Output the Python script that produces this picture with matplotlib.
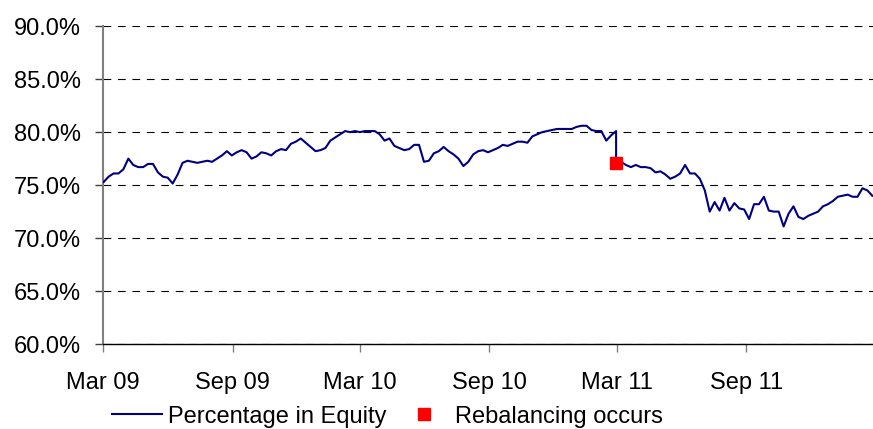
import matplotlib
matplotlib.use("Agg")
import matplotlib.pyplot as plt
from matplotlib.ticker import FuncFormatter, MultipleLocator
import pandas as pd

# ==========================================
# DATA (weekly readings, % of portfolio in equity)
# ==========================================
# before the rebalancing: weekly from Mar 2009 to end of Feb 2011
equity_pre = [
    75.3, 75.8, 76.1, 76.1, 76.5, 77.5, 76.9, 76.7, 76.7, 77.0,
    77.0, 76.2, 75.8, 75.7, 75.15, 76.0, 77.1, 77.3, 77.2, 77.1,
    77.2, 77.3, 77.2, 77.5, 77.8, 78.2, 77.8, 78.1, 78.3, 78.1,
    77.5, 77.7, 78.1, 78.0, 77.8, 78.2, 78.4, 78.3, 78.9, 79.1,
    79.4, 79.0, 78.6, 78.2, 78.3, 78.5, 79.2, 79.5, 79.8, 80.1,
    80.0, 80.1, 80.0, 80.1, 80.1, 80.1, 79.8, 79.2, 79.4, 78.7,
    78.5, 78.3, 78.4, 78.8, 78.8, 77.2, 77.3, 78.0, 78.2, 78.6,
    78.2, 77.9, 77.5, 76.8, 77.2, 77.9, 78.2, 78.3, 78.1, 78.3,
    78.5, 78.8, 78.7, 78.9, 79.1, 79.1, 79.0, 79.6, 79.8, 80.0,
    80.1, 80.2, 80.3, 80.3, 80.3, 80.3, 80.5, 80.6, 80.6, 80.2,
    80.1, 80.1, 79.2, 79.7, 80.1,
]
# after the rebalancing: weekly from end of Feb 2011 to end of Feb 2012
equity_post = [
    77.1, 77.2, 76.9, 76.7, 76.9, 76.7, 76.7, 76.6, 76.2, 76.3,
    76.0, 75.6, 75.8, 76.1, 76.9, 76.1, 76.1, 75.6, 74.5, 72.5,
    73.4, 72.6, 73.8, 72.6, 73.3, 72.8, 72.7, 71.8, 73.2, 73.2,
    73.9, 72.6, 72.5, 72.5, 71.1, 72.3, 73.0, 72.0, 71.8, 72.1,
    72.3, 72.5, 73.0, 73.2, 73.5, 73.9, 74.0, 74.1, 73.9, 73.9,
    74.7, 74.5, 74.0,
]
dates_pre = pd.date_range("2009-03-02", periods=len(equity_pre), freq="7D")
dates_post = pd.date_range("2011-02-28", periods=len(equity_post), freq="7D")

rebalance_dates = [pd.Timestamp("2011-02-28")]
rebalance_values = [77.1]

tick_dates = pd.date_range("2009-03-01", "2011-09-01", freq="6MS")
tick_labels = ["Mar 09", "Sep 09", "Mar 10", "Sep 10", "Mar 11", "Sep 11"]

# ==========================================
# PLOT
# ==========================================
plt.rcParams["font.family"] = ["Liberation Sans", "DejaVu Sans"]

fig = plt.figure(figsize=(8.73, 4.29), dpi=100)
ax = fig.add_axes([0.118, 0.198, 0.882, 0.741])

dates = list(dates_pre) + list(dates_post)
values = equity_pre + equity_post
ax.plot(dates, values, color="#000080", lw=1.5, label="Percentage in Equity", zorder=3)
ax.plot(rebalance_dates, rebalance_values, ls="none", marker="s", ms=8.5,
        color="#FF0000", label="Rebalancing occurs", zorder=4)

ax.set_ylim(60, 90)
ax.set_xlim(pd.Timestamp("2009-03-01"), pd.Timestamp("2012-02-28"))
ax.yaxis.set_major_locator(MultipleLocator(5))
ax.yaxis.set_major_formatter(FuncFormatter(lambda v, p: f"{v:.1f}%"))
ax.grid(axis="y", color="black", lw=0.8, ls=(0, (7, 6)))
ax.set_xticks(tick_dates)
ax.set_xticklabels(tick_labels)

for side in ["top", "right"]:
    ax.spines[side].set_visible(False)
ax.spines["left"].set_color("#808080")
ax.spines["left"].set_linewidth(1.5)
ax.spines["bottom"].set_color("black")
ax.spines["bottom"].set_linewidth(1.0)

ax.tick_params(axis="y", length=6, width=1, color="#404040", pad=10, labelsize=17)
ax.tick_params(axis="x", length=6, width=1, color="#808080", pad=14, labelsize=17)

fig.legend(loc="center", bbox_to_anchor=(0.444, 0.029), ncol=2, frameon=False,
           fontsize=17, handlelength=2.1, handletextpad=0.25, columnspacing=0.55,
           markerscale=1.0, borderaxespad=0.0, borderpad=0.1)

fig.savefig("out.png", dpi=100)
